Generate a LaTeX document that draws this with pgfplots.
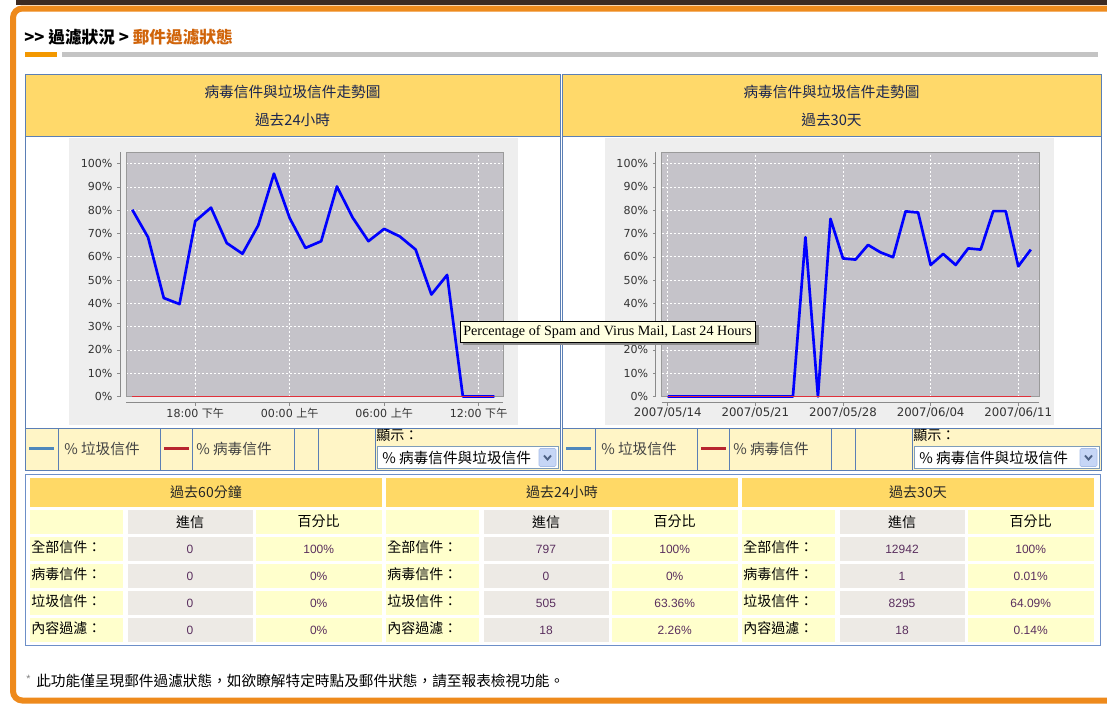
\documentclass[border=0pt]{standalone}
\usepackage{pgfplots}
\pgfplotsset{compat=1.18}
\usepackage{pgfplotstable}
\usepackage{fontspec}
\setmainfont{Noto Sans CJK TC}
\newfontfamily\cjk{Noto Sans CJK TC}
\newfontfamily\dv{DejaVu Sans}
\newfontfamily\ar{Liberation Sans}
\newfontfamily\tms{Liberation Serif}
\newcommand\fs[1]{\fontsize{#1}{#1}\selectfont}

\definecolor{frameor}{HTML}{EE8A1C}
\definecolor{topstrip}{HTML}{3C2A22}
\definecolor{crumb}{HTML}{D0640A}
\definecolor{barorange}{HTML}{F39800}
\definecolor{bargray}{HTML}{C4C4C4}
\definecolor{pborder}{HTML}{5B7FB5}
\definecolor{hdr}{HTML}{FFD96A}
\definecolor{hdrtext}{HTML}{1A2550}
\definecolor{cream}{HTML}{FFF5C6}
\definecolor{chartgray}{HTML}{EEEEEE}
\definecolor{plotbg}{HTML}{C5C3C9}
\definecolor{framegray}{HTML}{9A9A9A}
\definecolor{axgray}{HTML}{8A8A8A}
\definecolor{spamc}{HTML}{4F87BC}
\definecolor{virusc}{HTML}{B8252F}
\definecolor{vred}{HTML}{E0303A}
\definecolor{ltext}{HTML}{444444}
\definecolor{ddborder}{HTML}{7F9DB9}
\definecolor{btnblue}{HTML}{C6D6F6}
\definecolor{btnborder}{HTML}{A8BEE8}
\definecolor{chev}{HTML}{4D6185}
\definecolor{thdr}{HTML}{FFD966}
\definecolor{clight}{HTML}{FFFFCC}
\definecolor{cgray}{HTML}{EDEAE5}
\definecolor{numc}{HTML}{5A2F5E}
\definecolor{tborder}{HTML}{6D8FC8}
\definecolor{tipbg}{HTML}{FFFFE1}

\pgfplotstableread{
x spam virus
-10 80.2 0
-9 68.4 0
-8 42.3 0
-7 39.7 0
-6 75.3 0
-5 81.1 0
-4 65.9 0
-3 61.3 0
-2 73.5 0
-1 95.7 0
0 76.6 0
1 63.8 0
2 66.7 0
3 90.2 0
4 76.8 0
5 66.7 0
6 72.0 0
7 68.7 0
8 63.1 0
9 43.8 0
10 52.2 0
11 0 0
12 0 0
13 0 0
}\hourTable

\pgfplotstableread{
x spam virus
0 0 0
1 0 0
2 0 0
3 0 0
4 0 0
5 0 0
6 0 0
7 0 0
8 0 0
9 0 0
10 0 0
11 68.4 0
12 0 0
13 76.3 0
14 59.3 0
15 58.8 0
16 65.1 0
17 61.9 0
18 59.8 0
19 79.5 0
20 79.0 0
21 56.5 0
22 61.2 0
23 56.5 0
24 63.6 0
25 63.1 0
26 79.6 0
27 79.6 0
28 55.9 0
29 63.1 0
}\dayTable

\pgfplotsset{mychart/.style={
  scale only axis, clip=false,
  anchor=south west,
  height=183.375pt,
  ymin=0, ymax=105,
  ytick={0,10,20,30,40,50,60,70,80,90,100},
  yticklabels={0\%,10\%,20\%,30\%,40\%,50\%,60\%,70\%,80\%,90\%,100\%},
  axis background/.style={fill=plotbg},
  axis line style={draw=framegray, line width=0.6pt},
  major tick length=0pt,
  tick style={draw=none},
  grid=major,
  major grid style={draw=white, dash pattern=on 1.5pt off 1.5pt, line width=0.5pt},
  ticklabel style={font=\dv\fs{8.3}, text=black!80},
  yticklabel style={anchor=east, inner sep=0pt, xshift=-10pt},
  xticklabel style={anchor=north, inner sep=0pt, yshift=-8.5pt},
}}

\newcommand\chartpanel[3]{%
  \fill[hdr] (#1,-74.5) rectangle (#2,-136);
  \fill[white] (#1,-136) rectangle (#2,-428);
  \fill[cream] (#1,-428) rectangle (#2,-470.5);
  \draw[pborder] (#1,-74.5) rectangle (#2,-470.5);
  \draw[pborder] (#1,-136) -- (#2,-136);
  \draw[pborder] (#1,-428) -- (#2,-428);
  \foreach \d in {33,135,167,269,293,350} \draw[pborder] ({#1+\d},-428) -- ({#1+\d},-470.5);
  \node[text=hdrtext, font=\fs{11}] at ({(#1+#2)/2},-91.5) {病毒信件與垃圾信件走勢圖};
  \node[text=hdrtext, font=\fs{11}] at ({(#1+#2)/2},-120) {#3};
  \draw[spamc, line width=2.25pt] ({#1+4},-448.5) -- ({#1+29},-448.5);
  \node[anchor=west, inner sep=0pt, font=\fs{11}, text=ltext] at ({#1+39},-448.5) {\% 垃圾信件};
  \draw[virusc, line width=2.25pt] ({#1+139},-448.5) -- ({#1+164},-448.5);
  \node[anchor=west, inner sep=0pt, font=\fs{11}, text=ltext] at ({#1+171},-448.5) {\% 病毒信件};
  \node[anchor=west, inner sep=0pt, font=\fs{10.5}] at ({#1+351},-436) {顯示：};
  \draw[ddborder, fill=white] ({#1+352},-446.5) rectangle ({#2-2},-468.5);
  \node[anchor=west, inner sep=0pt, font=\fs{11}] at ({#1+357},-457.5) {\% 病毒信件與垃圾信件};
  \draw[fill=btnblue, draw=btnborder, rounded corners=1pt] ({#2-21},-448.5) rectangle ({#2-4},-466.5);
  \draw[chev, line width=1.4pt] ({#2-16},-455.5) -- ({#2-12.5},-459.5) -- ({#2-9},-455.5);
}

\newcommand\tsec[2]{%
  \fill[thdr] (#1,-477.5) rectangle ({#1+352},-506.5);
  \node[font=\fs{10.5}, text=black!85] at ({#1+176},-492) {#2};
  \fill[clight] (#1,-510) rectangle ({#1+92.5},-533.5);
  \fill[cgray] ({#1+97.5},-510) rectangle ({#1+222.5},-533.5);
  \fill[clight] ({#1+225.5},-510) rectangle ({#1+352},-533.5);
  \node[font=\fs{10.5}] at ({#1+160},-521.7) {進信};
  \node[font=\fs{10.5}] at ({#1+288.7},-521.7) {百分比};
}
\newcommand\trow[5]{%
  \fill[clight] (#1,-#2) rectangle ({#1+92.5},{-#2-24});
  \fill[cgray] ({#1+97.5},-#2) rectangle ({#1+222.5},{-#2-24});
  \fill[clight] ({#1+225.5},-#2) rectangle ({#1+352},{-#2-24});
  \node[anchor=west, inner sep=0pt, font=\fs{10.5}] at ({#1+1},{-#2-10.5}) {#3};
  \node[font=\ar\fs{9}, text=numc] at ({#1+160},{-#2-12.5}) {#4};
  \node[font=\ar\fs{9}, text=numc] at ({#1+288.7},{-#2-12.5}) {#5};
}

\begin{document}
\begin{tikzpicture}[x=0.75pt,y=0.75pt]
\useasboundingbox (0,0) rectangle (1107,-704);
\fill[white] (0,0) rectangle (1107,-704);
% top strip and frame
\fill[topstrip] (16,0) rectangle (1107,-4.5);
\draw[frameor, line width=4.5pt, rounded corners=7pt] (1115,-8.5) -- (13,-8.5) -- (13,-700.5) -- (1115,-700.5);
% breadcrumb
\node[anchor=west, inner sep=0pt, font=\bfseries\fs{12.5}] at (24,-37) {>\kern0pt> 過濾狀況 > \textcolor{crumb}{郵件過濾狀態}};
\fill[barorange] (25,-52) rectangle (57,-57);
\fill[bargray] (62,-52) rectangle (1098,-57);

% chart panels
\chartpanel{25}{560}{過去24小時}
\chartpanel{562}{1101}{過去30天}
\fill[chartgray] (69,-138) rectangle (518,-425);
\fill[chartgray] (605,-138) rectangle (1054,-425);
\coordinate (A1) at (126,-396.5);
\coordinate (A2) at (661.7,-396.5);

% chart 1
\begin{axis}[mychart, at={(A1)}, width=282.75pt,
  xmin=-10.4, xmax=13.55, xtick={-6,0,6,12},
  xticklabels={18:00 {\cjk 下午}, 00:00 {\cjk 上午}, 06:00 {\cjk 上午}, 12:00 {\cjk 下午}}]
\addplot[draw=blue, line width=2pt, line join=round] table[x=x,y=spam]{\hourTable};
\addplot[draw=vred, line width=1.1pt] table[x=x,y=virus]{\hourTable};
\draw[axgray] ([xshift=-4.5pt]rel axis cs:0,0) -- ([xshift=-4.5pt]rel axis cs:0,1);
\draw[axgray] ([yshift=-4.5pt]rel axis cs:0,0) -- ([yshift=-4.5pt]rel axis cs:1,0);
\pgfplotsinvokeforeach{0,10,20,30,40,50,60,70,80,90,100}{\draw[axgray] ([xshift=-4.5pt]axis cs:-10.4,#1) -- ([xshift=-6.75pt]axis cs:-10.4,#1);}
\pgfplotsinvokeforeach{-6,0,6,12}{\draw[axgray] ([yshift=-4.5pt]axis cs:#1,0) -- ([yshift=-6.75pt]axis cs:#1,0);}
\end{axis}

% chart 2
\begin{axis}[mychart, at={(A2)}, width=283.2pt,
  xmin=-0.48, xmax=29.68, xtick={0,7,14,21,28},
  xticklabel style={font=\dv\fs{8.8}},
  xticklabels={2007/05/14, 2007/05/21, 2007/05/28, 2007/06/04, 2007/06/11}]
\addplot[draw=blue, line width=2pt, line join=round] table[x=x,y=spam]{\dayTable};
\addplot[draw=vred, line width=1.1pt] table[x=x,y=virus]{\dayTable};
\draw[axgray] ([xshift=-4.5pt]rel axis cs:0,0) -- ([xshift=-4.5pt]rel axis cs:0,1);
\draw[axgray] ([yshift=-4.5pt]rel axis cs:0,0) -- ([yshift=-4.5pt]rel axis cs:1,0);
\pgfplotsinvokeforeach{0,10,20,30,40,50,60,70,80,90,100}{\draw[axgray] ([xshift=-4.5pt]axis cs:-0.48,#1) -- ([xshift=-6.75pt]axis cs:-0.48,#1);}
\pgfplotsinvokeforeach{0,7,14,21,28}{\draw[axgray] ([yshift=-4.5pt]axis cs:#1,0) -- ([yshift=-6.75pt]axis cs:#1,0);}
\end{axis}

% tooltip
\fill[black!45] (463,-324.5) rectangle (758.5,-345);
\draw[black, fill=tipbg, line width=0.7pt] (460.5,-321.5) rectangle (755.5,-342);
\node[anchor=west, inner sep=0pt, font=\tms\fs{10.6}] at (463,-332) {Percentage of Spam and Virus Mail, Last 24 Hours};

% table
\draw[tborder] (25.5,-474) rectangle (1100.5,-645);
\tsec{30}{過去60分鐘}
\tsec{386}{過去24小時}
\tsec{742}{過去30天}
\trow{30}{537}{全部信件：}{0}{100\%}
\trow{30}{564}{病毒信件：}{0}{0\%}
\trow{30}{591}{垃圾信件：}{0}{0\%}
\trow{30}{618}{內容過濾：}{0}{0\%}
\trow{386}{537}{全部信件：}{797}{100\%}
\trow{386}{564}{病毒信件：}{0}{0\%}
\trow{386}{591}{垃圾信件：}{505}{63.36\%}
\trow{386}{618}{內容過濾：}{18}{2.26\%}
\trow{742}{537}{全部信件：}{12942}{100\%}
\trow{742}{564}{病毒信件：}{1}{0.01\%}
\trow{742}{591}{垃圾信件：}{8295}{64.09\%}
\trow{742}{618}{內容過濾：}{18}{0.14\%}

% footer
\node[anchor=west, inner sep=0pt, font=\ar\fs{8}, text=black!50] at (26,-679) {*};
\node[anchor=west, inner sep=0pt, font=\fs{11}] at (36,-681) {此功能僅呈現郵件過濾狀態，如欲瞭解特定時點及郵件狀態，請至報表檢視功能。};
\end{tikzpicture}
\end{document}
